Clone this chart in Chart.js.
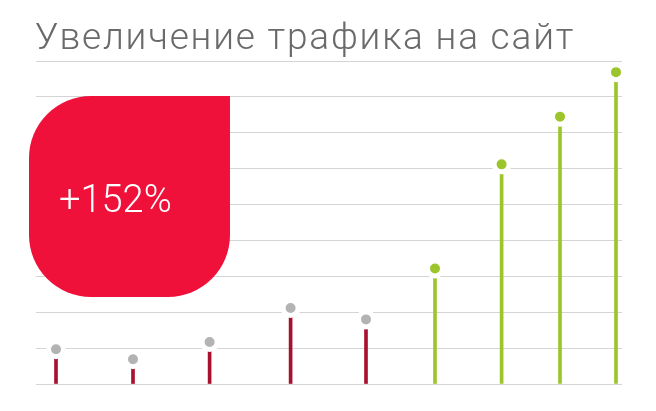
<!DOCTYPE html>
<html>
<head>
<meta charset="utf-8">
<script src="https://cdn.jsdelivr.net/npm/chart.js@4"></script>
<style>
  html, body { margin: 0; padding: 0; background: #fff; }
  #wrap { width: 656px; height: 411px; position: relative; }
</style>
</head>
<body>
<div id="wrap"><canvas id="trafficChart"></canvas></div>
<script>
const title = 'Увеличение трафика на сайт';
const badgeText = '+152%';

// position of each period along the axis (uneven in the original)
const periods = [1, 4.85, 8.68, 12.73, 16.5, 19.95, 23.28, 26.2, 29];
const visits = [970, 690, 1170, 2120, 1800, 3220, 6120, 7450, 8690];
const isAfter = [false, false, false, false, false, true, true, true, true];

const stemColors = isAfter.map(a => a ? '#9cc52b' : '#a8102f');
const dotColors = isAfter.map(a => a ? '#9cc52b' : '#b3b3b3');

const points = periods.map((p, i) => ({ x: p, y: visits[i] }));

// title and red badge
const decorations = {
  id: 'decorations',
  afterDraw(chart) {
    const ctx = chart.ctx;
    ctx.save();
    ctx.fillStyle = '#6a6a6a';
    ctx.font = '300 37px Roboto';
    ctx.textBaseline = 'alphabetic';
    ctx.letterSpacing = '1.8px';
    ctx.fillText(title, 35, 49);
    ctx.letterSpacing = '0px';

    const x = 29, y = 96, w = 201, h = 201, r = 62;
    ctx.fillStyle = '#f0113a';
    ctx.beginPath();
    ctx.moveTo(x + r, y);
    ctx.lineTo(x + w, y);
    ctx.lineTo(x + w, y + h - r);
    ctx.arcTo(x + w, y + h, x + w - r, y + h, r);
    ctx.lineTo(x + r, y + h);
    ctx.arcTo(x, y + h, x, y + h - r, r);
    ctx.lineTo(x, y + r);
    ctx.arcTo(x, y, x + r, y, r);
    ctx.closePath();
    ctx.fill();

    ctx.fillStyle = '#ffffff';
    ctx.font = '300 38px Roboto';
    ctx.fillText(badgeText, 59, 212);
    ctx.restore();
  }
};

const ctx = document.getElementById('trafficChart').getContext('2d');

let chart = new Chart(ctx, {
  data: {
    datasets: [{
      type: 'line',
      data: points,
      showLine: false,
      pointRadius: 7.5,
      pointHoverRadius: 7.5,
      pointBorderWidth: 5,
      pointBorderColor: '#ffffff',
      pointBackgroundColor: dotColors,
      order: 0
    }, {
      type: 'bar',
      data: points,
      backgroundColor: stemColors,
      barThickness: 3,
      order: 1
    }]
  },
  options: {
    responsive: true,
    maintainAspectRatio: false,
    animation: false,
    layout: { padding: { top: 61, left: 36, right: 34, bottom: 27 } },
    plugins: {
      legend: { display: false },
      tooltip: { enabled: false }
    },
    scales: {
      x: {
        type: 'linear',
        min: 0,
        max: 29.3,
        offset: false,
        display: false
      },
      y: {
        min: 0,
        max: 9000,
        ticks: { display: false, stepSize: 1000 },
        border: { display: false },
        grid: { color: '#d4d4d4', lineWidth: 1, drawTicks: false }
      }
    }
  },
  plugins: [decorations]
});
</script>
</body>
</html>
